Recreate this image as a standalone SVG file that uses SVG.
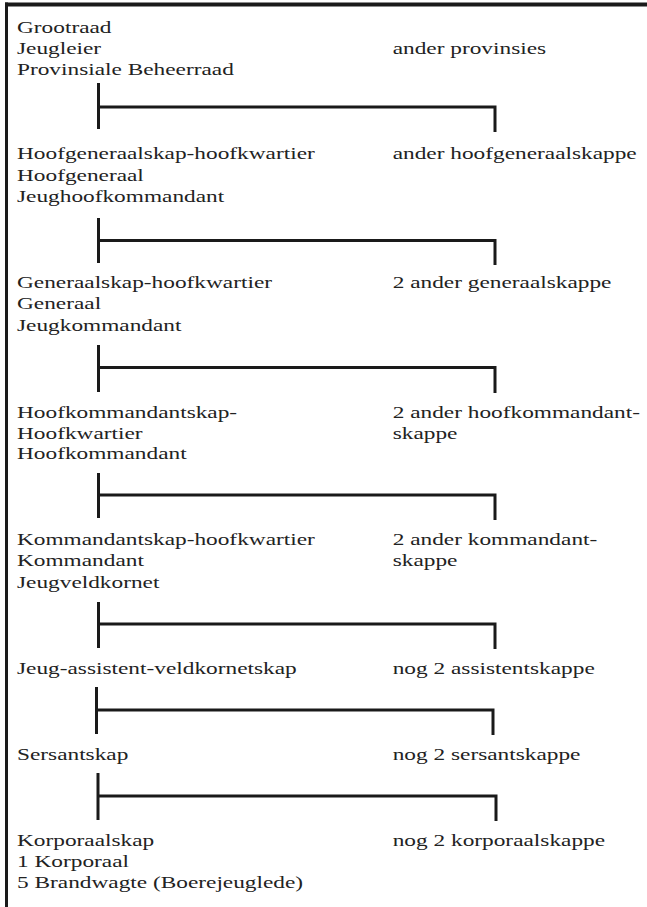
<svg xmlns="http://www.w3.org/2000/svg" width="647" height="907" viewBox="0 0 647 907">
<style>
text{font-family:"Liberation Serif","Times New Roman",serif;font-size:17.5px;fill:#222}
.ln{fill:none;stroke:#1a1a1a;stroke-width:3;stroke-linecap:butt;stroke-linejoin:miter}
.bd{fill:#1a1a1a}
</style>
<rect width="647" height="907" fill="#ffffff"/>
<g id="frame">
<rect class="bd" x="5" y="2.5" width="642" height="4"/>
<rect class="bd" x="5" y="2.5" width="3" height="904.5"/>
</g>
<g id="connectors">
<path class="ln" d="M98.5 83V129M98.5 107H495V132"/>
<path class="ln" d="M98.5 218V263M98.5 240.5H495V265"/>
<path class="ln" d="M98.5 345V392M98.5 367.5H495V393"/>
<path class="ln" d="M98.5 473V518M98.5 495H495V520"/>
<path class="ln" d="M98.5 602V648M98.5 624H495V649"/>
<path class="ln" d="M96.5 687V734M96.5 710H493V735"/>
<path class="ln" d="M98 773V820M98 796H496V821"/>
</g>
<g transform="scale(1.333 1)">
<g id="n1"><text x="12.75" y="33.3">Grootraad</text><text x="12.75" y="54">Jeugleier</text><text x="12.75" y="75">Provinsiale Beheerraad</text></g>
<g id="n1r"><text x="294.6" y="54">ander provinsies</text></g>
<g id="n2"><text x="12.75" y="159.3">Hoofgeneraalskap-hoofkwartier</text><text x="12.75" y="180.7">Hoofgeneraal</text><text x="12.75" y="202">Jeughoofkommandant</text></g>
<g id="n2r"><text x="294.6" y="159.3">ander hoofgeneraalskappe</text></g>
<g id="n3"><text x="12.75" y="288">Generaalskap-hoofkwartier</text><text x="12.75" y="309.5">Generaal</text><text x="12.75" y="331">Jeugkommandant</text></g>
<g id="n3r"><text x="294.6" y="288">2 ander generaalskappe</text></g>
<g id="n4"><text x="12.75" y="418.5">Hoofkommandantskap-</text><text x="12.75" y="439">Hoofkwartier</text><text x="12.75" y="459.5">Hoofkommandant</text></g>
<g id="n4r"><text x="294.6" y="418.5">2 ander hoofkommandant-</text><text x="294.6" y="439">skappe</text></g>
<g id="n5"><text x="12.75" y="545">Kommandantskap-hoofkwartier</text><text x="12.75" y="566.5">Kommandant</text><text x="12.75" y="588">Jeugveldkornet</text></g>
<g id="n5r"><text x="294.6" y="545">2 ander kommandant-</text><text x="294.6" y="566.5">skappe</text></g>
<g id="n6"><text x="12.75" y="674">Jeug-assistent-veldkornetskap</text></g>
<g id="n6r"><text x="294.6" y="674">nog 2 assistentskappe</text></g>
<g id="n7"><text x="12.75" y="760">Sersantskap</text></g>
<g id="n7r"><text x="294.6" y="760">nog 2 sersantskappe</text></g>
<g id="n8"><text x="12.75" y="846">Korporaalskap</text><text x="12.75" y="867">1 Korporaal</text><text x="12.75" y="888">5 Brandwagte (Boerejeuglede)</text></g>
<g id="n8r"><text x="294.6" y="846">nog 2 korporaalskappe</text></g>
</g>
</svg>
